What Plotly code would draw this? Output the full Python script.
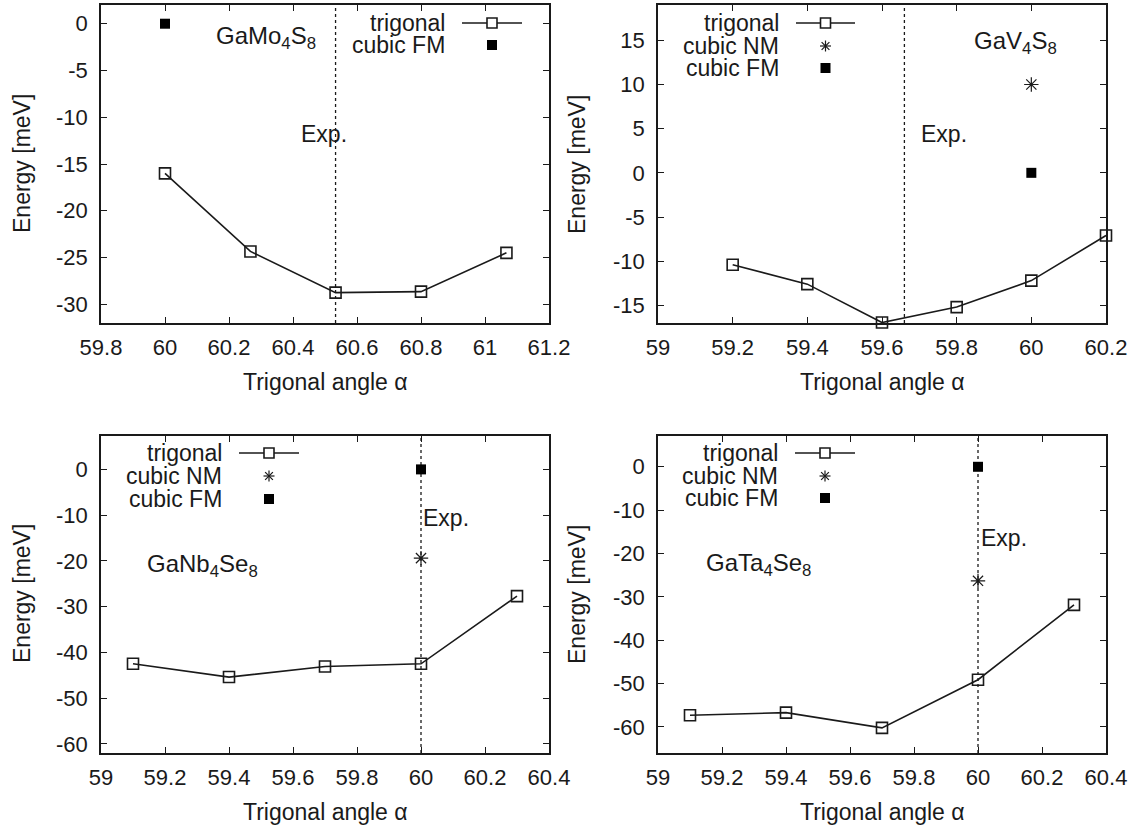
import plotly.graph_objects as go

W, H = 1138, 827

# ---------------- data ----------------
mo_alpha = [60.0, 60.267, 60.533, 60.8, 61.067]
mo_energy = [-16.0, -24.35, -28.75, -28.65, -24.5]
mo_fm_alpha, mo_fm_energy = [60.0], [0.0]
mo_exp = 60.533

v_alpha = [59.2, 59.4, 59.6, 59.8, 60.0, 60.2]
v_energy = [-10.4, -12.6, -16.95, -15.2, -12.2, -7.1]
v_nm_alpha, v_nm_energy = [60.0], [10.0]
v_fm_alpha, v_fm_energy = [60.0], [0.0]
v_exp = 59.66

nb_alpha = [59.1, 59.4, 59.7, 60.0, 60.3]
nb_energy = [-42.5, -45.4, -43.1, -42.5, -27.7]
nb_nm_alpha, nb_nm_energy = [60.0], [-19.4]
nb_fm_alpha, nb_fm_energy = [60.0], [0.0]
nb_exp = 60.0

ta_alpha = [59.1, 59.4, 59.7, 60.0, 60.3]
ta_energy = [-57.3, -56.7, -60.2, -49.1, -31.85]
ta_nm_alpha, ta_nm_energy = [60.0], [-26.3]
ta_fm_alpha, ta_fm_energy = [60.0], [0.0]
ta_exp = 60.0

x1_ticks = [59.8, 60.0, 60.2, 60.4, 60.6, 60.8, 61.0, 61.2]
x1_labels = ["59.8", "60", "60.2", "60.4", "60.6", "60.8", "61", "61.2"]
y1_ticks = [0, -5, -10, -15, -20, -25, -30]
y1_labels = ["0", "-5", "-10", "-15", "-20", "-25", "-30"]
x2_ticks = [59.0, 59.2, 59.4, 59.6, 59.8, 60.0, 60.2]
x2_labels = ["59", "59.2", "59.4", "59.6", "59.8", "60", "60.2"]
y2_ticks = [15, 10, 5, 0, -5, -10, -15]
y2_labels = ["15", "10", "5", "0", "-5", "-10", "-15"]
x34_ticks = [59.0, 59.2, 59.4, 59.6, 59.8, 60.0, 60.2, 60.4]
x34_labels = ["59", "59.2", "59.4", "59.6", "59.8", "60", "60.2", "60.4"]
y34_ticks = [0, -10, -20, -30, -40, -50, -60]
y34_labels = ["0", "-10", "-20", "-30", "-40", "-50", "-60"]

# ---------------- style ----------------
FONT = "Liberation Sans, Arial, Helvetica, sans-serif"
FS_TICK = 22
FS_TXT = 23
FS_CMP = 24
INK = "#1a1a1a"

SQ_OPEN = dict(symbol="square-open", size=11, color=INK, line=dict(width=1.6, color=INK))
SQ_FILL = dict(symbol="square", size=10, color="#000000", line=dict(width=0))
STAR = dict(symbol="asterisk-open", size=12, color=INK, line=dict(width=1.2, color=INK))
LINE = dict(color=INK, width=1.6)

xl = [101 / W, 549 / W]
xr = [658 / W, 1106 / W]
yt = [1 - 323 / H, 1 - 5 / H]
yb = [1 - 753 / H, 1 - 436 / H]

fig = go.Figure()

panels = [
    ("x", "y", yt, mo_alpha, mo_energy, None, None, mo_fm_alpha, mo_fm_energy, mo_exp),
    ("x2", "y2", yt, v_alpha, v_energy, v_nm_alpha, v_nm_energy, v_fm_alpha, v_fm_energy, v_exp),
    ("x3", "y3", yb, nb_alpha, nb_energy, nb_nm_alpha, nb_nm_energy, nb_fm_alpha, nb_fm_energy, nb_exp),
    ("x4", "y4", yb, ta_alpha, ta_energy, ta_nm_alpha, ta_nm_energy, ta_fm_alpha, ta_fm_energy, ta_exp),
]

shapes = []
for xa, ya, ydom, tx, ty, nx, ny, fx, fy, ex in panels:
    fig.add_trace(go.Scatter(x=tx, y=ty, mode="lines+markers", line=LINE,
                             marker=SQ_OPEN, xaxis=xa, yaxis=ya, showlegend=False,
                             cliponaxis=False))
    if nx is not None:
        fig.add_trace(go.Scatter(x=nx, y=ny, mode="markers", marker=STAR,
                                 xaxis=xa, yaxis=ya, showlegend=False, cliponaxis=False))
    fig.add_trace(go.Scatter(x=fx, y=fy, mode="markers", marker=SQ_FILL,
                             xaxis=xa, yaxis=ya, showlegend=False, cliponaxis=False))
    shapes.append(dict(type="line", xref=xa, yref="paper", x0=ex, x1=ex,
                       y0=ydom[0], y1=ydom[1], line=dict(color=INK, width=1.3, dash="dot"),
                       layer="below"))

annotations = []

# ---------------- gnuplot-style keys (text right, sample left) ----------------
def px(x):
    return x / W

def py(y):
    return 1 - y / H

keys = [
    (447, 462, 522, [23, 45], ["trigonal", "cubic FM"]),
    (781, 796, 855, [23, 46, 68], ["trigonal", "cubic NM", "cubic FM"]),
    (224, 239, 299, [453, 476, 499], ["trigonal", "cubic NM", "cubic FM"]),
    (780, 795, 855, [453, 476, 498], ["trigonal", "cubic NM", "cubic FM"]),
]
for tr, sl, sr, ys, names in keys:
    mid = (sl + sr) / 2
    for yy, nm in zip(ys, names):
        annotations.append(dict(text=nm, xref="paper", yref="paper", x=px(tr), y=py(yy),
                                xanchor="right", yanchor="middle", showarrow=False,
                                font=dict(family=FONT, size=FS_TXT, color=INK)))
        if nm == "trigonal":
            shapes.append(dict(type="line", xref="paper", yref="paper",
                               x0=px(sl), x1=px(sr), y0=py(yy), y1=py(yy),
                               line=dict(color=INK, width=1.6)))
            shapes.append(dict(type="rect", xref="paper", yref="paper",
                               x0=px(mid - 5), x1=px(mid + 5), y0=py(yy - 5), y1=py(yy + 5),
                               fillcolor="white", line=dict(color=INK, width=1.6)))
        elif nm == "cubic NM":
            r = 5.5
            d = r * 0.707
            for (ax, ay, bx, by) in [(0, -r, 0, r), (-r, 0, r, 0), (-d, -d, d, d), (-d, d, d, -d)]:
                shapes.append(dict(type="line", xref="paper", yref="paper",
                                   x0=px(mid + ax), x1=px(mid + bx), y0=py(yy + ay), y1=py(yy + by),
                                   line=dict(color=INK, width=1.2)))
        else:
            shapes.append(dict(type="rect", xref="paper", yref="paper",
                               x0=px(mid - 5), x1=px(mid + 5), y0=py(yy - 5), y1=py(yy + 5),
                               fillcolor="#000000", line=dict(width=0)))

# ---------------- text labels in data coordinates ----------------
def txt(s, xa, ya, x, y, size):
    annotations.append(dict(text=s, xref=xa, yref=ya, x=x, y=y, xanchor="left",
                            yanchor="middle", showarrow=False,
                            font=dict(family=FONT, size=size, color=INK)))

txt("GaMo<sub>4</sub>S<sub>8</sub>", "x", "y", 60.153, -1.5, FS_CMP)
txt("Exp.", "x", "y", 60.42, -11.8, FS_TXT)
txt("GaV<sub>4</sub>S<sub>8</sub>", "x2", "y2", 59.84, 14.7, FS_CMP)
txt("Exp.", "x2", "y2", 59.70, 4.4, FS_TXT)
txt("GaNb<sub>4</sub>Se<sub>8</sub>", "x3", "y3", 59.137, -21.0, FS_CMP)
txt("Exp.", "x3", "y3", 60.0, -10.6, FS_TXT)
txt("GaTa<sub>4</sub>Se<sub>8</sub>", "x4", "y4", 59.143, -22.5, FS_CMP)
txt("Exp.", "x4", "y4", 60.004, -16.4, FS_TXT)

# ---------------- axis titles (positioned like the reference) ----------------
x_titles = [(325, 382), (882, 382), (325, 812), (882, 812)]
y_titles = [(22, 164), (577, 164), (22, 594), (577, 594)]
for cx, cy in x_titles:
    annotations.append(dict(text="Trigonal angle α", xref="paper", yref="paper",
                            x=px(cx), y=py(cy), xanchor="center", yanchor="middle",
                            showarrow=False, font=dict(family=FONT, size=FS_TXT, color=INK)))
for cx, cy in y_titles:
    annotations.append(dict(text="Energy [meV]", xref="paper", yref="paper",
                            x=px(cx), y=py(cy), xanchor="center", yanchor="middle",
                            textangle=-90, showarrow=False,
                            font=dict(family=FONT, size=FS_TXT, color=INK)))

# ---------------- axes ----------------
def axis(domain, rng, tv, tt, anchor, standoff):
    return dict(domain=domain, range=rng, tickvals=tv, ticktext=tt, anchor=anchor,
                showline=True, linecolor=INK, linewidth=1.6, mirror="ticks",
                ticks="inside", ticklen=6, tickwidth=1.3, tickcolor=INK,
                showgrid=False, zeroline=False, automargin=False,
                ticklabelstandoff=standoff,
                tickfont=dict(family=FONT, size=FS_TICK, color=INK))

fig.update_layout(
    width=W, height=H,
    margin=dict(l=0, r=0, t=0, b=0, autoexpand=False),
    paper_bgcolor="white", plot_bgcolor="white",
    showlegend=False,
    font=dict(family=FONT, size=FS_TICK, color=INK),
    xaxis=axis(xl, [59.8, 61.2], x1_ticks, x1_labels, "y", 4),
    yaxis=axis(yt, [-32, 2], y1_ticks, y1_labels, "x", 7),
    xaxis2=axis(xr, [59.0, 60.2], x2_ticks, x2_labels, "y2", 4),
    yaxis2=axis(yt, [-17, 19], y2_ticks, y2_labels, "x2", 7),
    xaxis3=axis(xl, [59.0, 60.4], x34_ticks, x34_labels, "y3", 4),
    yaxis3=axis(yb, [-62, 7.3], y34_ticks, y34_labels, "x3", 7),
    xaxis4=axis(xr, [59.0, 60.4], x34_ticks, x34_labels, "y4", 4),
    yaxis4=axis(yb, [-66, 7.1], y34_ticks, y34_labels, "x4", 7),
    shapes=shapes,
    annotations=annotations,
)

fig.write_html("out.html")
